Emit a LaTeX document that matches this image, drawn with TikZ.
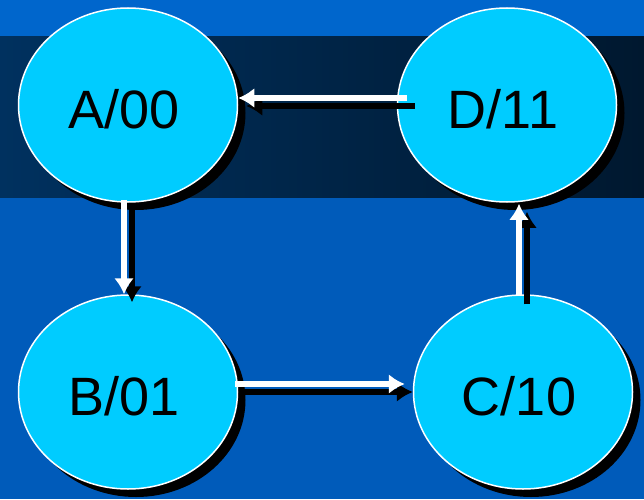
\documentclass[tikz,border=0pt]{standalone}
\usepackage{fontspec}
\setmainfont{Liberation Sans}
\usetikzlibrary{shapes.geometric,shadows,arrows.meta}
\tikzset{>={Latex[length=16pt,width=20pt]}}

\definecolor{slidetop}{HTML}{0066CC}
\definecolor{slidelow}{HTML}{005BBA}
\definecolor{bandleft}{HTML}{00315F}
\definecolor{bandright}{HTML}{00182F}
\definecolor{statefill}{HTML}{00CCFF}

\tikzset{
    state/.style={ellipse, draw=white, line width=1.5pt, fill=statefill,
        minimum width=219pt, minimum height=194pt, inner sep=0pt,
        text height=47pt, text depth=0pt,
        font=\fontsize{54}{60}\selectfont,
        drop shadow={shadow xshift=8pt, shadow yshift=-8pt, fill=black, opacity=1}},
    link/.style={-{Latex[length=16pt,width=20pt]}, white, line width=5.5pt},
    linkshadow/.style={-{Latex[length=16pt,width=20pt]}, black, line width=5.5pt,
        transform canvas={shift={(8pt,-8pt)}}}
}

\begin{document}
\begin{tikzpicture}[x=1pt,y=1pt]

    % background
    \fill[slidelow] (0,0) rectangle (644,499);
    \fill[slidetop] (0,462) rectangle (644,499);
    \shade[left color=bandleft, right color=bandright] (0,302) rectangle (644,462);

    \node[state] (a) at (128,394) {\hspace*{-8pt}A/00};
    \node[state] (d) at (507,394) {\hspace*{-8pt}D/11};
    \node[state] (b) at (128,107) {\hspace*{-8pt}B/01};
    \node[state] (c) at (523,107) {\hspace*{-8pt}C/10};

    % arrow shadows
    \draw[linkshadow] ([shift={(10pt,7pt)}]d.west) -- ([yshift=7pt]a.east);
    \draw[linkshadow] ([shift={(-4pt,3pt)}]a.south) -- ([xshift=-4pt]b.north);
    \draw[linkshadow] ([shift={(-3pt,8pt)}]b.east) -- ([shift={(-8pt,8pt)}]c.west);
    \draw[linkshadow] ([shift={(-4pt,-2pt)}]c.north) -- ([shift={(12pt,-1pt)}]d.south);

    % arrows
    \draw[link] ([shift={(10pt,7pt)}]d.west) -- ([yshift=7pt]a.east);
    \draw[link] ([shift={(-4pt,3pt)}]a.south) -- ([xshift=-4pt]b.north);
    \draw[link] ([shift={(-3pt,8pt)}]b.east) -- ([shift={(-8pt,8pt)}]c.west);
    \draw[link] ([shift={(-4pt,-2pt)}]c.north) -- ([shift={(12pt,-1pt)}]d.south);

\end{tikzpicture}
\end{document}
